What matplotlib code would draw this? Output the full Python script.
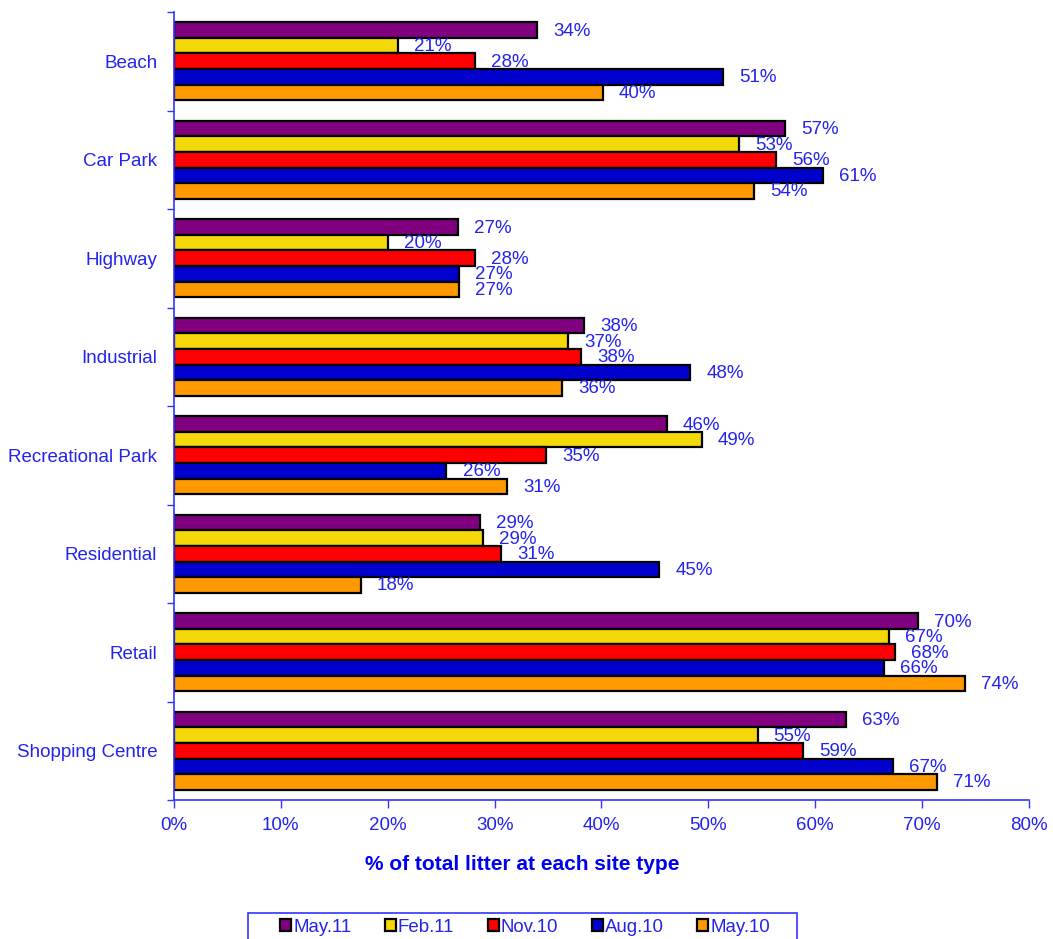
import numpy as np
import matplotlib
matplotlib.use('Agg')
import matplotlib.pyplot as plt
from matplotlib.patches import Patch, Rectangle

plt.rcParams['font.family'] = ['Liberation Sans', 'DejaVu Sans']

# site types, top to bottom
sites = ['Beach', 'Car Park', 'Highway', 'Industrial', 'Recreational Park',
         'Residential', 'Retail', 'Shopping Centre']
series = ['May.11', 'Feb.11', 'Nov.10', 'Aug.10', 'May.10']

# % of total litter
may11 = [34.0, 57.2, 26.6, 38.4, 46.1, 28.6, 69.6, 62.9]
feb11 = [21.0, 52.9, 20.0, 36.9, 49.4, 28.9, 66.9, 54.6]
nov10 = [28.2, 56.3, 28.2, 38.1, 34.8, 30.6, 67.5, 58.9]
aug10 = [51.4, 60.7, 26.7, 48.3, 25.5, 45.4, 66.4, 67.3]
may10 = [40.1, 54.3, 26.7, 36.3, 31.2, 17.5, 74.0, 71.4]

colors = ['#800080', '#F4D80A', '#FF0000', '#0000CC', '#FF9900']
txt = '#2323EE'
axc = '#3333FF'

data = [may11, feb11, nov10, aug10, may10]

fig = plt.figure(figsize=(10.53, 9.39), dpi=100)
ax = fig.add_axes([0.1652, 0.148, 0.812, 0.8392])

idx = np.arange(len(sites))
h = 0.158
for i, vals in enumerate(data):
    pos = idx + (i - 2) * h
    ax.barh(pos, vals, height=h, color=colors[i], edgecolor='black',
            linewidth=1.6, zorder=2)
    for p, v in zip(pos, vals):
        ax.text(v + 1.5, p + 0.01, '%d%%' % round(v), color=txt, fontsize=13.5,
                va='center', ha='left', zorder=3)

ax.set_xlim(0, 80)
ax.set_ylim(len(sites) - 0.5, -0.5)
ax.set_xticks(np.arange(0, 81, 10))
ax.set_xticklabels(['%d%%' % t for t in range(0, 81, 10)])
ax.set_yticks(idx)
ax.set_yticklabels(sites)
ax.set_yticks(np.arange(-0.5, len(sites)), minor=True)
ax.tick_params(axis='y', which='major', length=0, pad=12, labelcolor=txt, labelsize=13.5)
ax.tick_params(axis='y', which='minor', length=5, color=axc, width=1, direction='out')
ax.tick_params(axis='x', length=6, color=axc, width=1, labelcolor=txt, labelsize=13.5, pad=6)

for s in ['top', 'right']:
    ax.spines[s].set_visible(False)
for s in ['left', 'bottom']:
    ax.spines[s].set_color(axc)
    ax.spines[s].set_linewidth(1.2)

fig.text(0.4962, 1 - 864 / 939, '% of total litter at each site type', color='#0000EE',
         fontsize=15, fontweight='bold', ha='center', va='center')

# legend box (runs off the bottom edge like the original)
fig.patches.append(Rectangle((248 / 1053, -0.01), 549 / 1053, 0.01 + 26 / 939,
                             transform=fig.transFigure, fill=False,
                             edgecolor=axc, linewidth=1.2))
handles = [Patch(facecolor=c, edgecolor='black', linewidth=1.6) for c in colors]
leg = fig.legend(handles, series, loc='center', bbox_to_anchor=(525 / 1053, 12 / 939),
                 ncol=5, fontsize=13.4, frameon=False,
                 handlelength=0.6, handleheight=0.6, handletextpad=0.1,
                 columnspacing=1.8, borderpad=0, borderaxespad=0)
for t in leg.get_texts():
    t.set_color(txt)

fig.savefig('out.png', dpi=100)
